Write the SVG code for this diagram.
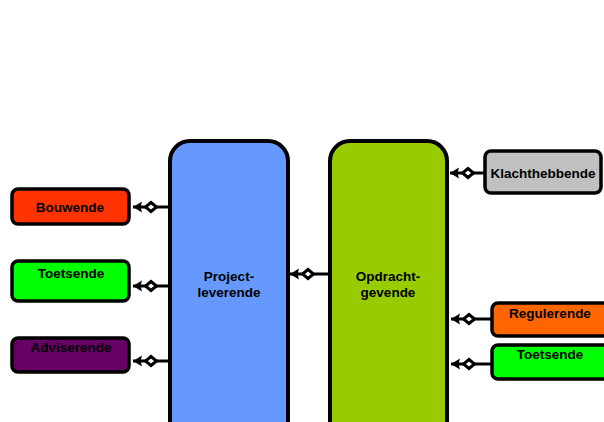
<svg xmlns="http://www.w3.org/2000/svg" width="604" height="422" viewBox="0 0 604 422">
<style>
.box{stroke:#000;stroke-width:3.5}
.big{stroke:#000;stroke-width:4}
.lbl{font-family:"Liberation Sans",Arial,sans-serif;font-weight:bold;font-size:13.5px;fill:#000;text-anchor:middle}
.conn{stroke:#000;stroke-width:3;fill:none;marker-end:url(#dm)}
</style>
<defs>
<marker id="dm" markerUnits="userSpaceOnUse" markerWidth="30" markerHeight="16" refX="25" refY="8" orient="auto" overflow="visible">
<path d="M25,8 L16,2.5 L17.5,8 L16,13.5 Z" fill="#000"/>
<path d="M1.5,8 L7,3.5 L12.5,8 L7,12.5 Z" fill="#fff" stroke="#000" stroke-width="3" stroke-linejoin="miter"/>
</marker>
</defs>
<rect width="604" height="422" fill="#fff"/>
<g id="projectleverende">
<rect class="big" x="170" y="141" width="118" height="300" rx="20" fill="#6699FF"/>
<text class="lbl" x="229" y="281">Project-</text>
<text class="lbl" x="229" y="297">leverende</text>
</g>
<g id="opdrachtgevende">
<rect class="big" x="330" y="141" width="117" height="300" rx="20" fill="#99CC00"/>
<text class="lbl" x="388" y="281">Opdracht-</text>
<text class="lbl" x="388" y="297">gevende</text>
</g>
<g id="bouwende">
<rect class="box" x="12" y="189" width="117" height="35" rx="6" fill="#FF3300"/>
<text class="lbl" x="70" y="212">Bouwende</text>
</g>
<g id="toetsende-l">
<rect class="box" x="12" y="261" width="117" height="40" rx="6" fill="#00FF00"/>
<text class="lbl" x="71" y="278">Toetsende</text>
</g>
<g id="adviserende">
<rect class="box" x="12" y="338" width="117" height="34" rx="6" fill="#660066"/>
<text class="lbl" x="71" y="352">Adviserende</text>
</g>
<g id="klachthebbende">
<rect class="box" x="485" y="151" width="116" height="42" rx="6" fill="#C0C0C0"/>
<text class="lbl" x="543" y="178">Klachthebbende</text>
</g>
<g id="regulerende">
<rect class="box" x="492" y="303" width="130" height="33" rx="6" fill="#FF6600"/>
<text class="lbl" x="550" y="318">Regulerende</text>
</g>
<g id="toetsende-r">
<rect class="box" x="492" y="345" width="130" height="34" rx="6" fill="#00FF00"/>
<text class="lbl" x="550" y="359">Toetsende</text>
</g>
<g id="connectors">
<path class="conn" d="M170,207 L133,207"/>
<path class="conn" d="M170,286 L133,286"/>
<path class="conn" d="M170,361 L133,361"/>
<path class="conn" d="M330,274 L290,274"/>
<path class="conn" d="M485,173 L450,173"/>
<path class="conn" d="M492,319 L451,319"/>
<path class="conn" d="M492,364 L451,364"/>
</g>
</svg>
